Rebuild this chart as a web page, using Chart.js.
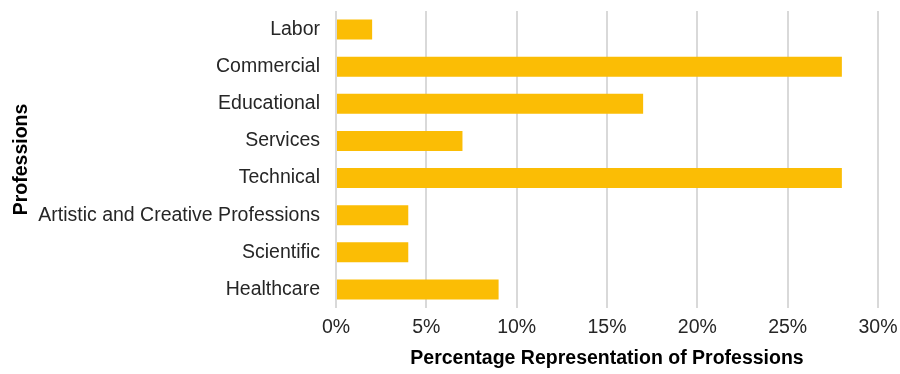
<!DOCTYPE html>
<html lang="en">
<head>
  <meta charset="UTF-8">
  <title>Professions</title>
  <script src="https://cdn.jsdelivr.net/npm/chart.js"></script>
  <style>
    body { margin: 0; padding: 0; background: #fff; }
    .wrap { width: 900px; height: 374px; }
  </style>
</head>
<body>
  <div class="wrap"><canvas id="chart" width="900" height="374"></canvas></div>
  <script>
    // data
    const categories = ['Labor', 'Commercial', 'Educational', 'Services', 'Technical',
      'Artistic and Creative Professions', 'Scientific', 'Healthcare'];
    const shares = [2, 28, 17, 7, 28, 4, 4, 9];
    const xTicks = [0, 5, 10, 15, 20, 25, 30];

    const font = 'Liberation Sans, Arial, sans-serif';

    new Chart(document.getElementById('chart'), {
      type: 'bar',
      data: {
        labels: categories,
        datasets: [{
          data: shares,
          backgroundColor: '#FBBD05',
          borderWidth: 0,
          barPercentage: 0.54,
          categoryPercentage: 1
        }]
      },
      options: {
        indexAxis: 'y',
        responsive: false,
        animation: false,
        layout: { padding: { top: 11, right: 22, bottom: 4, left: 10 } },
        plugins: { legend: { display: false }, tooltip: { enabled: false } },
        scales: {
          x: {
            min: 0, max: 30,
            afterBuildTicks: s => { s.ticks = xTicks.map(v => ({ value: v })); },
            grid: { color: '#d9d9d9', lineWidth: 2, drawTicks: false },
            border: { display: false },
            ticks: {
              callback: v => v + '%',
              color: '#262626',
              font: { family: font, size: 19.5 },
              padding: 8
            },
            title: {
              display: true,
              text: 'Percentage Representation of Professions',
              color: '#000',
              font: { family: font, size: 19.5, weight: 'bold' },
              padding: { top: 4, bottom: 0 }
            },
            afterFit: s => {
              s.height = 374 - 308 - 4;
              s.paddingLeft = 0;
              s.paddingRight = 0;
            }
          },
          y: {
            afterFit: s => {
              s.width = 336 - 10;
              s.paddingTop = 0;
              s.paddingBottom = 0;
            },
            grid: { display: false },
            border: { display: false },
            ticks: {
              color: '#262626',
              font: { family: font, size: 19.5 },
              padding: 8
            },
            title: {
              display: true,
              text: 'Professions',
              color: '#000',
              font: { family: font, size: 19.5, weight: 'bold' },
              padding: { top: 0, bottom: 0 }
            }
          }
        }
      }
    });
  </script>
</body>
</html>
